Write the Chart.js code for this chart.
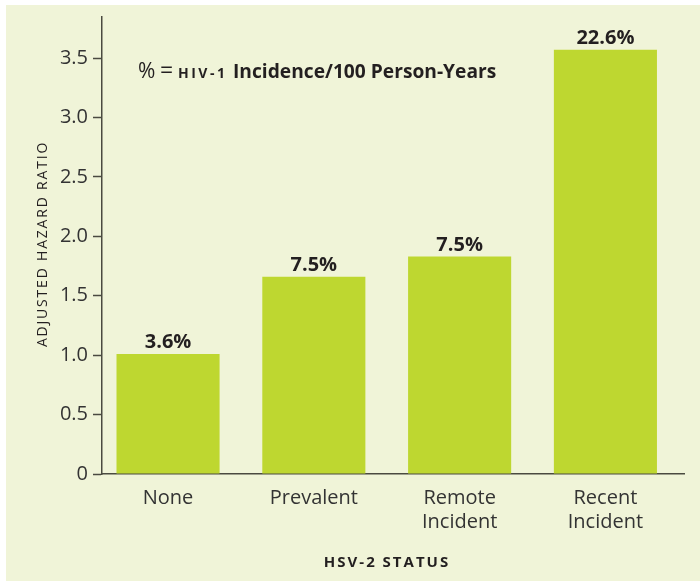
<!DOCTYPE html>
<html>
<head>
<meta charset="utf-8">
<script src="https://cdn.jsdelivr.net/npm/chart.js@4.4.1/dist/chart.umd.min.js"></script>
<style>
    html, body { margin: 0; padding: 0; background: #ffffff; }
    #wrap { width: 700px; height: 581px; }
</style>
</head>
<body>
<div id="wrap"><canvas id="hsvChart" width="700" height="581"></canvas></div>
<script>
// chart data
const categories = [['None'], ['Prevalent'], ['Remote', 'Incident'], ['Recent', 'Incident']];
const hazardRatio = [1.01, 1.66, 1.83, 3.57];
const incidenceLabels = ['3.6%', '7.5%', '7.5%', '22.6%'];
const yTickValues = [0, 0.5, 1.0, 1.5, 2.0, 2.5, 3.0, 3.5];
const yTickLabels = ['0', '0.5', '1.0', '1.5', '2.0', '2.5', '3.0', '3.5'];

const textColor = '#231f20';
const axisColor = '#4a4a40';
const FONT = '"Open Sans", "Noto Sans", sans-serif';

// background panel, value labels, annotation and axis titles
const decorations = {
    id: 'decorations',
    beforeDraw(chart) {
        const ctx = chart.ctx;
        ctx.save();
        ctx.fillStyle = '#ffffff';
        ctx.fillRect(0, 0, chart.width, chart.height);
        ctx.fillStyle = '#f0f4d8';
        ctx.fillRect(6, 5, chart.width - 6, chart.height - 5);
        ctx.restore();
    },
    afterDatasetsDraw(chart) {
        const ctx = chart.ctx;
        const meta = chart.getDatasetMeta(0);
        ctx.save();
        ctx.fillStyle = textColor;
        ctx.textAlign = 'center';
        ctx.textBaseline = 'alphabetic';
        ctx.font = 'bold 20px ' + FONT;
        meta.data.forEach((bar, i) => {
            ctx.fillText(incidenceLabels[i], bar.x, bar.y - 6);
        });

        // annotation: "% = HIV-1 Incidence/100 Person-Years"
        const base = 78;
        ctx.textAlign = 'left';
        ctx.font = '21px ' + FONT;
        ctx.fillText('%', 138, base);
        ctx.font = '23px ' + FONT;
        ctx.fillText('=', 160, base);
        ctx.font = 'bold 14px ' + FONT;
        ctx.letterSpacing = '2.5px';
        ctx.fillText('HIV-1', 178, base);
        ctx.letterSpacing = '0px';
        ctx.font = 'bold 19.2px ' + FONT;
        ctx.fillText('Incidence/100 Person-Years', 233, base);

        // x axis title
        ctx.textAlign = 'center';
        ctx.font = 'bold 15px ' + FONT;
        ctx.letterSpacing = '2px';
        ctx.fillText('HSV-2 STATUS', 387, 567);

        // y axis title
        ctx.translate(47, 244);
        ctx.rotate(-Math.PI / 2);
        ctx.font = '14px ' + FONT;
        ctx.letterSpacing = '1.8px';
        ctx.fillText('ADJUSTED HAZARD RATIO', 0, 0);
        ctx.restore();
    }
};

new Chart(document.getElementById('hsvChart'), {
    type: 'bar',
    data: {
        datasets: [
            {
                label: 'Adjusted hazard ratio',
                data: hazardRatio.map((v, i) => ({ x: i, y: v })),
                backgroundColor: '#bed730',
                borderWidth: 0,
                barPercentage: 0.707,
                categoryPercentage: 1.0
            }
        ]
    },
    options: {
        responsive: false,
        animation: false,
        events: [],
        layout: {
            padding: { left: 0, right: 16, top: 15, bottom: 0 }
        },
        plugins: {
            legend: { display: false },
            tooltip: { enabled: false }
        },
        scales: {
            x: {
                type: 'linear',
                offset: false,
                min: -0.453,
                max: 3.539,
                afterBuildTicks: (scale) => {
                    scale.ticks = categories.map((c, i) => ({ value: i }));
                },
                afterFit: (scale) => { scale.height = 107; },
                grid: { display: true, offset: false, drawOnChartArea: false, drawTicks: false },
                border: { display: true, color: axisColor, width: 1.5 },
                ticks: {
                    padding: 12,
                    autoSkip: false,
                    maxRotation: 0,
                    color: '#333333',
                    font: { family: FONT, size: 20, lineHeight: 1.2 },
                    callback: (v) => categories[v]
                }
            },
            y: {
                min: 0,
                max: 3.846,
                afterBuildTicks: (scale) => {
                    scale.ticks = yTickValues.map(v => ({ value: v }));
                },
                afterFit: (scale) => { scale.width = 102; },
                grid: {
                    display: true,
                    drawOnChartArea: false,
                    drawTicks: true,
                    tickLength: 9,
                    tickWidth: 1.5,
                    tickColor: axisColor
                },
                border: { display: true, color: axisColor, width: 1.5 },
                ticks: {
                    padding: 5,
                    color: '#333333',
                    font: { family: FONT, size: 20 },
                    callback: (v) => {
                        const i = yTickValues.indexOf(v);
                        return i >= 0 ? yTickLabels[i] : '';
                    }
                }
            }
        }
    },
    plugins: [decorations]
});
</script>
</body>
</html>
